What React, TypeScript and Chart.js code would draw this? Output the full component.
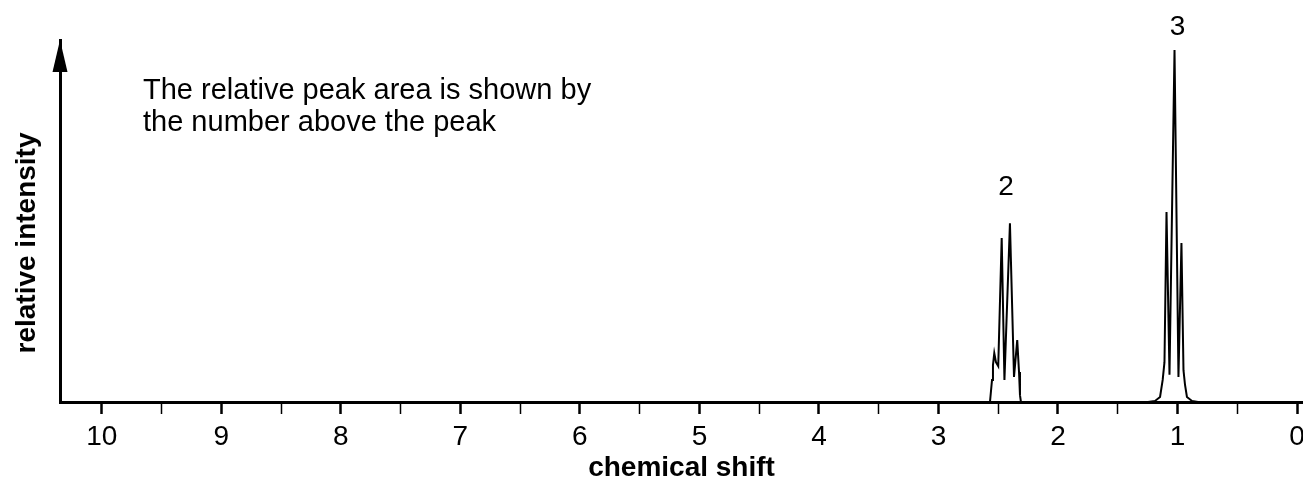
import React, { useEffect, useRef } from "react";
import { Chart, registerables } from "chart.js";
Chart.register(...registerables);

// Spectrum trace (chemical shift in ppm, relative intensity 0-100)
const spectrumPpm = [
  10.35, 2.619, 2.569, 2.552, 2.544, 2.533, 2.519, 2.5, 2.471, 2.448, 2.402, 2.368, 2.341, 2.326, 2.318, 2.31,
  1.247, 1.188, 1.146, 1.124, 1.109, 1.092, 1.067, 1.025, 0.992, 0.967, 0.95, 0.937, 0.921, 0.879, 0.828, -0.05,
];
const spectrumIntensity = [
  0, 0, 0, 6.1, 10.2, 13.5, 11.0, 9.9, 45.3, 6.1, 49.4, 6.9, 17.1, 8.3, 1.9, 0,
  0, 0.3, 1.4, 6.1, 11.0, 52.5, 7.5, 97.2, 6.9, 43.9, 8.8, 4.7, 1.4, 0.3, 0, 0,
];

const majorTicks = [10, 9, 8, 7, 6, 5, 4, 3, 2, 1, 0];
const minorTicks = [9.5, 8.5, 7.5, 6.5, 5.5, 4.5, 3.5, 2.5, 1.5, 0.5];

const peakLabels = ["2", "3"];
const peakLabelPpm = [2.435, 1.0];
const peakLabelIntensity = [59.4, 103.6];

const xTitle = "chemical shift";
const yTitle = "relative intensity";
const noteLines = ["The relative peak area is shown by", "the number above the peak"];

const FONT = '"Liberation Sans", Arial, Helvetica, sans-serif';

const decorPlugin = {
  id: "decor",
  afterDraw(chart: any) {
    const { ctx, chartArea, scales } = chart;
    const xs = scales.x;
    const ys = scales.y;
    ctx.save();
    ctx.fillStyle = "#000";
    // arrow head on y axis
    const ax = chartArea.left;
    ctx.beginPath();
    ctx.moveTo(ax, chartArea.top);
    ctx.lineTo(ax - 7.5, chartArea.top + 32);
    ctx.lineTo(ax + 7.5, chartArea.top + 32);
    ctx.closePath();
    ctx.fill();

    // y title
    ctx.save();
    ctx.font = `bold 28px ${FONT}`;
    ctx.textAlign = "center";
    ctx.textBaseline = "middle";
    ctx.translate(27, 243);
    ctx.rotate(-Math.PI / 2);
    ctx.fillText(yTitle, 0, 0);
    ctx.restore();

    // note
    ctx.font = `29px ${FONT}`;
    ctx.textAlign = "left";
    ctx.textBaseline = "alphabetic";
    noteLines.forEach((t, i) => ctx.fillText(t, chartArea.left + 83, 99 + i * 32));

    // peak labels
    ctx.font = `28px ${FONT}`;
    ctx.textAlign = "center";
    ctx.textBaseline = "middle";
    peakLabels.forEach((t, i) => {
      ctx.fillText(t, xs.getPixelForValue(peakLabelPpm[i]), ys.getPixelForValue(peakLabelIntensity[i]));
    });
    ctx.restore();
  },
};

export default function App() {
  const ref = useRef<HTMLCanvasElement | null>(null);
  useEffect(() => {
    if (!ref.current) return;
    const allTicks = [...majorTicks, ...minorTicks].sort((a, b) => a - b);
    const chart = new Chart(ref.current, {
      type: "line",
      data: {
        datasets: [
          {
            data: spectrumPpm.map((p, i) => ({ x: p, y: spectrumIntensity[i] })),
            borderColor: "#000",
            borderWidth: 2,
            pointRadius: 0,
            tension: 0,
            fill: false,
            clip: false as any,
          },
        ],
      },
      options: {
        animation: false,
        responsive: true,
        maintainAspectRatio: false,
        layout: { padding: { top: 40, left: 0, right: 0, bottom: 0 } },
        plugins: { legend: { display: false }, tooltip: { enabled: false } },
        scales: {
          x: {
            type: "linear",
            reverse: true,
            min: -0.05,
            max: 10.35,
            afterBuildTicks: (scale: any) => {
              scale.ticks = allTicks.map((v) => ({ value: v }));
            },
            afterFit: (scale: any) => {
              scale.height = 90;
              scale.paddingLeft = 0;
              scale.paddingRight = 0;
            },
            ticks: {
              autoSkip: false,
              maxRotation: 0,
              padding: 6,
              color: "#000",
              font: { family: FONT, size: 28 },
              callback: (v: any) => (majorTicks.includes(Number(v)) ? String(v) : ""),
            },
            grid: {
              display: true,
              drawOnChartArea: false,
              drawTicks: true,
              tickLength: 12,
              tickColor: "#000",
              tickWidth: (c: any) => (c.tick && majorTicks.includes(c.tick.value) ? 2.5 : 1.5),
            },
            border: { display: true, color: "#000", width: 3 },
            title: {
              display: true,
              text: xTitle,
              color: "#000",
              font: { family: FONT, size: 28, weight: "bold" },
              padding: { top: 0, bottom: 7 },
            },
          },
          y: {
            type: "linear",
            min: 0,
            max: 100,
            afterFit: (scale: any) => {
              scale.width = 60;
            },
            ticks: { display: false },
            grid: { display: false },
            border: { display: true, color: "#000", width: 3 },
          },
        },
      },
      plugins: [decorPlugin],
    } as any);
    return () => chart.destroy();
  }, []);
  return (
    <div style={{ position: "absolute", left: 0, top: 0, width: 1303, height: 492, background: "#fff" }}>
      <canvas ref={ref} />
    </div>
  );
}
